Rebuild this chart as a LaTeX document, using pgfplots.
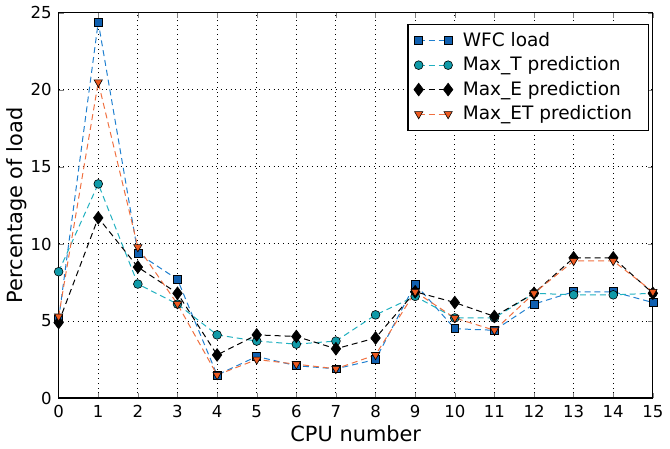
\documentclass[border=0pt]{standalone}
\usepackage{fontspec}
\setmainfont{DejaVu Sans}
\usepackage{pgfplots}
\pgfplotsset{compat=1.18}
\definecolor{cblue}{HTML}{1060B0}
\definecolor{lblue}{HTML}{2080D0}
\definecolor{cteal}{HTML}{109AA8}
\definecolor{lteal}{HTML}{20B0C0}
\definecolor{corange}{HTML}{EE5A20}
\definecolor{lorange}{HTML}{F07040}
\begin{document}
\begin{tikzpicture}
\begin{axis}[
  scale only axis,
  width=298.5pt, height=193.5pt,
  xmin=0, xmax=15, ymin=0, ymax=25,
  xtick={0,1,...,15}, ytick={0,5,...,25},
  tick align=inside, xtick pos=both, ytick pos=both,
  major tick length=2.5pt,
  grid=major,
  major grid style={black, dotted, line width=0.5pt},
  axis line style={black, line width=0.6pt},
  /pgf/number format/assume math mode=true,
  ticklabel style={font=\fontsize{8.3}{9}\selectfont},
  label style={font=\fontsize{10.5}{12}\selectfont},
  xlabel={CPU number},
  ylabel={Percentage of load},
  xlabel style={yshift=3pt},
  ylabel style={yshift=-5pt},
  legend style={at={(0.993,0.972)}, anchor=north east, font=\fontsize{9.3}{11}\selectfont,
    draw=black, line width=0.6pt, row sep=-0.3pt, inner xsep=3pt, inner ysep=2pt,
    nodes={inner xsep=5pt}},
  legend cell align=left,
  legend image code/.code={\draw[#1] plot coordinates {(0cm,0cm) (0.52cm,0cm)};},
  every axis plot/.append style={dash pattern=on 3pt off 2pt, line width=0.5pt},
]
\addplot[lblue, mark=square*, mark size=2pt, mark options={solid, fill=cblue, draw=black, line width=0.3pt}] coordinates {
(0,5.1) (1,24.4) (2,9.4) (3,7.7) (4,1.5) (5,2.7) (6,2.1) (7,1.9) (8,2.5) (9,7.4) (10,4.5) (11,4.4) (12,6.1) (13,6.9) (14,6.9) (15,6.2)};
\addlegendentry{WFC load}
\addplot[lteal, mark=*, mark size=2.2pt, mark options={solid, fill=cteal, draw=black, line width=0.3pt}] coordinates {
(0,8.2) (1,13.9) (2,7.4) (3,6.1) (4,4.1) (5,3.7) (6,3.5) (7,3.7) (8,5.4) (9,6.6) (10,5.2) (11,5.2) (12,6.8) (13,6.7) (14,6.7) (15,6.8)};
\addlegendentry{Max\_T prediction}
\addplot[black, mark=diamond*, mark size=3.2pt, mark options={solid, fill=black, draw=black, line width=0.3pt}] coordinates {
(0,4.9) (1,11.7) (2,8.5) (3,6.8) (4,2.8) (5,4.1) (6,4.0) (7,3.2) (8,3.9) (9,6.9) (10,6.2) (11,5.3) (12,6.8) (13,9.1) (14,9.1) (15,6.8)};
\addlegendentry{Max\_E prediction}
\addplot[lorange, mark=triangle*, mark size=2.4pt, mark options={solid, rotate=180, fill=corange, draw=black, line width=0.3pt}] coordinates {
(0,5.3) (1,20.5) (2,9.8) (3,6.1) (4,1.5) (5,2.5) (6,2.2) (7,1.9) (8,2.8) (9,6.9) (10,5.2) (11,4.4) (12,6.8) (13,8.9) (14,8.9) (15,6.9)};
\addlegendentry{Max\_ET prediction}
\end{axis}
\end{tikzpicture}
\end{document}
